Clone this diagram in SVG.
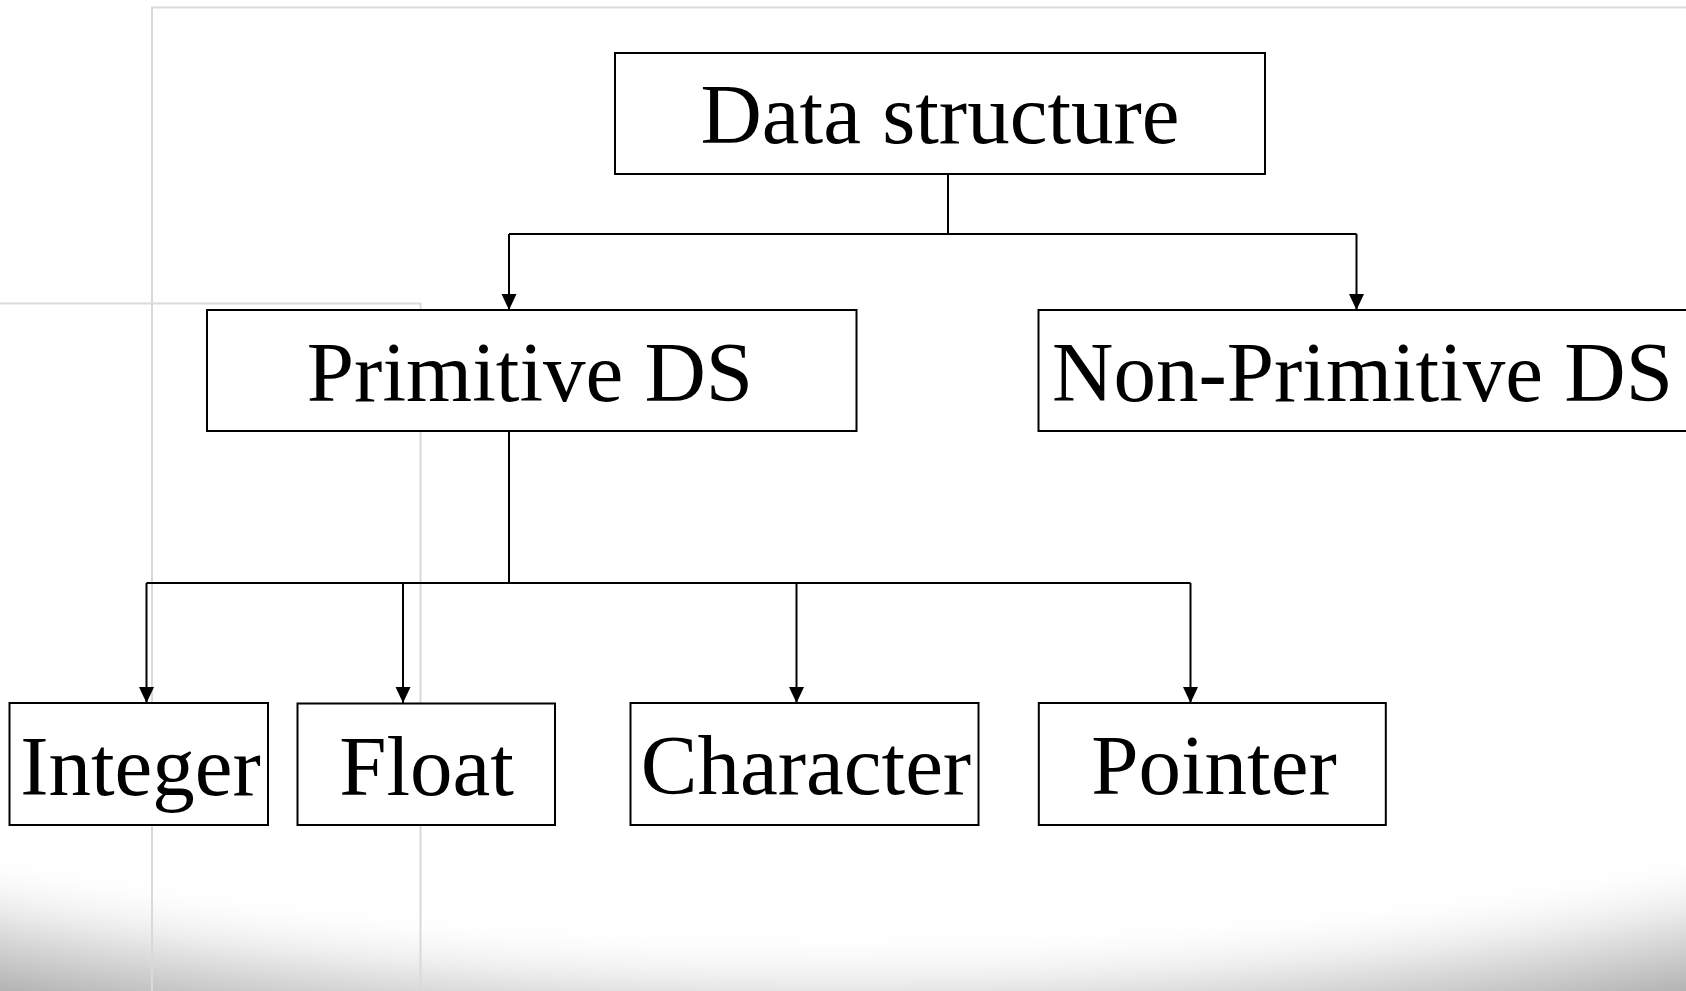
<svg xmlns="http://www.w3.org/2000/svg" width="1686" height="991" viewBox="0 0 1686 991">
<style>
.box{fill:#ffffff;stroke:#000000;stroke-width:2}
.lbl{font-family:"Liberation Serif","Times New Roman",serif;font-size:85px;fill:#000000;text-anchor:middle}
.con{fill:none;stroke:#000000;stroke-width:2}
.arr{marker-end:url(#ah)}
.bg{fill:none;stroke:#d9d9d9;stroke-width:2}
</style>
<defs>
<marker id="ah" markerUnits="userSpaceOnUse" markerWidth="16" markerHeight="16" viewBox="0 0 16 16" refX="16" refY="8" orient="auto">
<path d="M0,0.5 L16,8 L0,15.5 Z" fill="#000000"/>
</marker>
<radialGradient id="vig" gradientUnits="userSpaceOnUse" cx="0" cy="0" r="1" gradientTransform="translate(843 300) scale(2169 794)">
<stop offset="0" stop-color="#ffffff" stop-opacity="0"/>
<stop offset="0.79" stop-color="#ffffff" stop-opacity="0"/>
<stop offset="0.87" stop-color="#e6e6e6" stop-opacity="1"/>
<stop offset="0.955" stop-color="#b2b2b2" stop-opacity="1"/>
</radialGradient>
</defs>
<rect x="0" y="0" width="1686" height="991" fill="#ffffff"/>
<rect x="0" y="780" width="1686" height="211" fill="url(#vig)"/>
<g id="background-lines">
<path class="bg" d="M1686,7.5 H152 V991"/>
<path class="bg" d="M0,303.5 H420.5 V991"/>
</g>
<g id="connectors">
<path class="con" d="M948,174 V234"/>
<path class="con" d="M509,234 H1356.5"/>
<path class="con arr" d="M509,234 V310"/>
<path class="con arr" d="M1356.5,234 V310"/>
<path class="con" d="M509,431 V583"/>
<path class="con" d="M146.5,583 H1190.5"/>
<path class="con arr" d="M146.5,583 V703"/>
<path class="con arr" d="M403,583 V703"/>
<path class="con arr" d="M796.5,583 V703"/>
<path class="con arr" d="M1190.5,583 V703"/>
</g>
<g id="node-data-structure">
<rect class="box" x="615" y="53" width="650" height="121"/>
<text class="lbl" x="940" y="143">Data structure</text>
</g>
<g id="node-primitive">
<rect class="box" x="207" y="310" width="649.5" height="121"/>
<text class="lbl" x="530" y="401">Primitive DS</text>
</g>
<g id="node-non-primitive">
<rect class="box" x="1038.5" y="310" width="700" height="121"/>
<text class="lbl" x="1362.5" y="401">Non-Primitive DS</text>
</g>
<g id="node-integer">
<rect class="box" x="9.5" y="703" width="258.5" height="122"/>
<text class="lbl" x="140.5" y="795">Integer</text>
</g>
<g id="node-float">
<rect class="box" x="297.5" y="703.5" width="257.5" height="121.5"/>
<text class="lbl" x="426.5" y="795">Float</text>
</g>
<g id="node-character">
<rect class="box" x="630.5" y="703" width="348" height="122"/>
<text class="lbl" x="806" y="794">Character</text>
</g>
<g id="node-pointer">
<rect class="box" x="1038.8" y="703" width="347" height="122"/>
<text class="lbl" x="1214" y="794">Pointer</text>
</g>
</svg>
